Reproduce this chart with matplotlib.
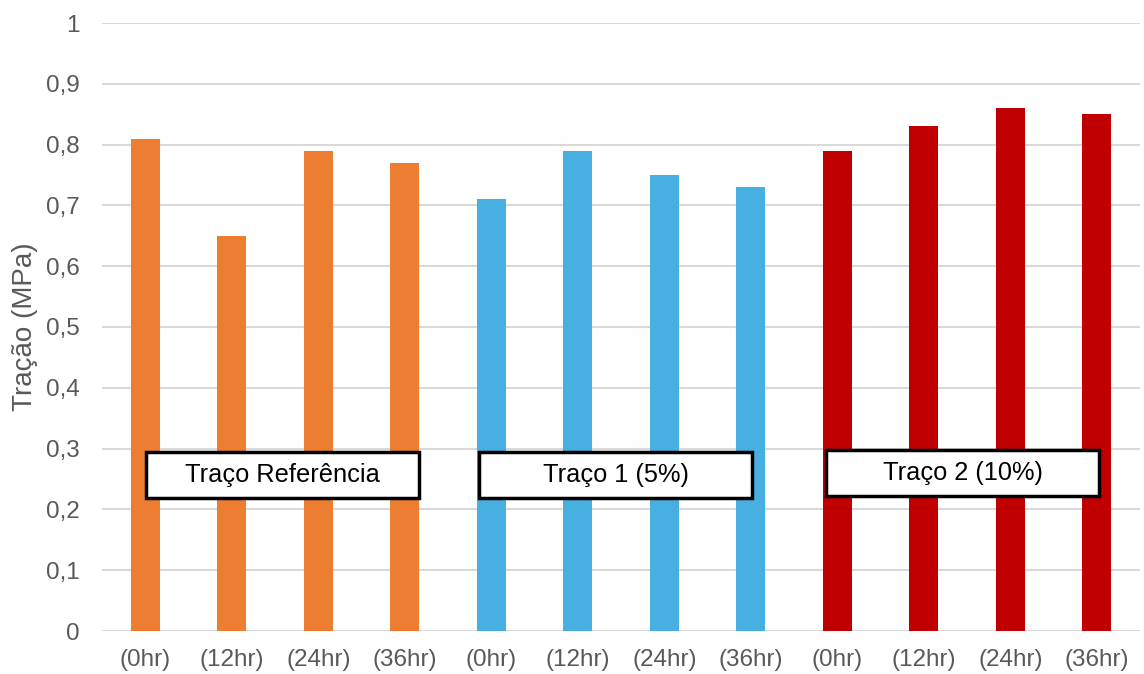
import numpy as np
import matplotlib.pyplot as plt
from matplotlib.patches import Rectangle
from matplotlib.ticker import FuncFormatter

plt.rcParams['font.family'] = ['Liberation Sans', 'DejaVu Sans']

# Data
categories = ['(0hr)', '(12hr)', '(24hr)', '(36hr)'] * 3
values = [0.81, 0.65, 0.79, 0.77,
          0.71, 0.79, 0.75, 0.73,
          0.79, 0.83, 0.86, 0.85]
groups = ['Traço Referência', 'Traço 1 (5%)', 'Traço 2 (10%)']
group_colors = ['#ED7D31', '#47B0E0', '#C00000']
box_offsets = [0.09, -0.06, -0.05]
box_y = [0.257, 0.257, 0.26]

fig = plt.figure(figsize=(11.44, 6.74), dpi=100)
ax = fig.add_axes([102 / 1144, 1 - 631 / 674, 1038 / 1144, 608 / 674])

x = np.arange(len(values))
colors = np.repeat(group_colors, 4)
ax.bar(x, values, width=0.335, color=colors, zorder=2)

ax.set_xlim(-0.5, len(values) - 0.5)
ax.set_ylim(0, 1)
ax.set_yticks(np.arange(0, 1.01, 0.1))
ax.yaxis.set_major_formatter(FuncFormatter(
    lambda v, p: '0' if abs(v) < 1e-9 else ('1' if abs(v - 1) < 1e-9 else f'{v:.1f}'.replace('.', ','))))
ax.set_xticks(x)
ax.set_xticklabels(categories)
ax.grid(axis='y', color='#d9d9d9', lw=1.5, zorder=0)
ax.tick_params(length=0, labelsize=17.5, colors='#595959')
ax.tick_params(axis='x', pad=13)
ax.tick_params(axis='y', pad=16)
for s in ax.spines.values():
    s.set_visible(False)
ax.set_ylabel('Tração (MPa)', fontsize=20, color='#595959', labelpad=6)

# Group label boxes
for i, name in enumerate(groups):
    cx = 4 * i + 1.5 + box_offsets[i]
    w, h = 3.16, 0.076
    ax.add_patch(Rectangle((cx - w / 2, box_y[i] - h / 2), w, h, facecolor='white',
                           edgecolor='black', lw=2.5, zorder=3))
    ax.text(cx, box_y[i], name, ha='center', va='center', fontsize=18.3,
            color='black', zorder=4)

fig.savefig('out.png', dpi=100)
